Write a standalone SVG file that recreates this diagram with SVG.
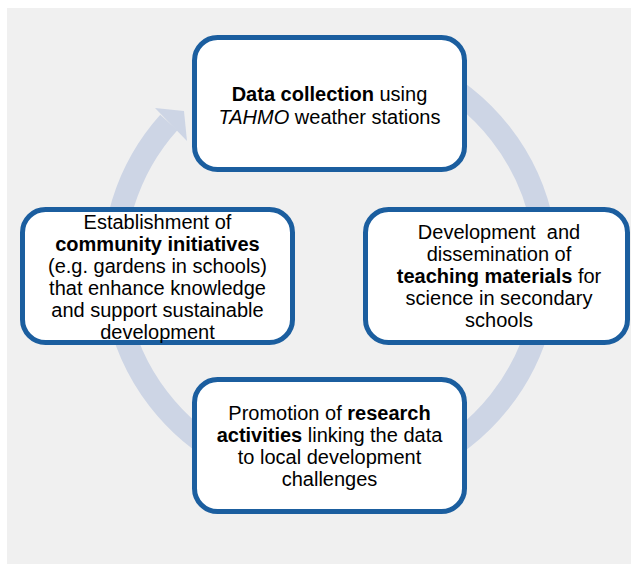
<svg xmlns="http://www.w3.org/2000/svg" width="631" height="565" viewBox="0 0 631 565">
<style>
.box{fill:#ffffff;stroke:#1b5e9f;stroke-width:5}
.t{font-family:"Liberation Sans",Arial,sans-serif;font-size:20px;fill:#000000;text-anchor:middle}
.b{font-weight:bold}
.i{font-style:italic}
.ring{fill:none;stroke:#cdd5e5;stroke-width:23}
.head{fill:#cdd5e5}
</style>
<rect x="7" y="8" width="624" height="556" fill="#f0f0f0"/>
<g id="connectors">
<path class="ring" d="M 330 50.5 A 216.5 216.5 0 1 1 168.8 122.5"/>
<polygon class="head" points="155,108 184,111 187,141"/>
</g>
<g id="node-data">
<rect class="box" x="194.5" y="37.5" width="270" height="132" rx="23"/>
<text class="t" x="329.5" y="100.5"><tspan class="b">Data collection</tspan> using</text>
<text class="t" x="329.5" y="123.5"><tspan class="i">TAHMO</tspan> weather stations</text>
</g>
<g id="node-teaching">
<rect class="box" x="365.5" y="209.5" width="262" height="133" rx="23"/>
<text class="t" x="499" y="239" style="white-space:pre">Development  and</text>
<text class="t" x="499" y="261">dissemination of</text>
<text class="t" x="499" y="283"><tspan class="b">teaching materials</tspan> for</text>
<text class="t" x="499" y="305">science in secondary</text>
<text class="t" x="499" y="327">schools</text>
</g>
<g id="node-research">
<rect class="box" x="194.5" y="379.5" width="270" height="132" rx="23"/>
<text class="t" x="329.5" y="420">Promotion of <tspan class="b">research</tspan></text>
<text class="t" x="329.5" y="442"><tspan class="b">activities</tspan> linking the data</text>
<text class="t" x="329.5" y="464">to local development</text>
<text class="t" x="329.5" y="486">challenges</text>
</g>
<g id="node-community">
<rect class="box" x="22.5" y="209.5" width="270" height="133" rx="23"/>
<text class="t" x="157.5" y="229">Establishment of</text>
<text class="t b" x="157.5" y="251">community initiatives</text>
<text class="t" x="157.5" y="273">(e.g. gardens in schools)</text>
<text class="t" x="157.5" y="295">that enhance knowledge</text>
<text class="t" x="157.5" y="317">and support sustainable</text>
<text class="t" x="157.5" y="339">development</text>
</g>
</svg>
